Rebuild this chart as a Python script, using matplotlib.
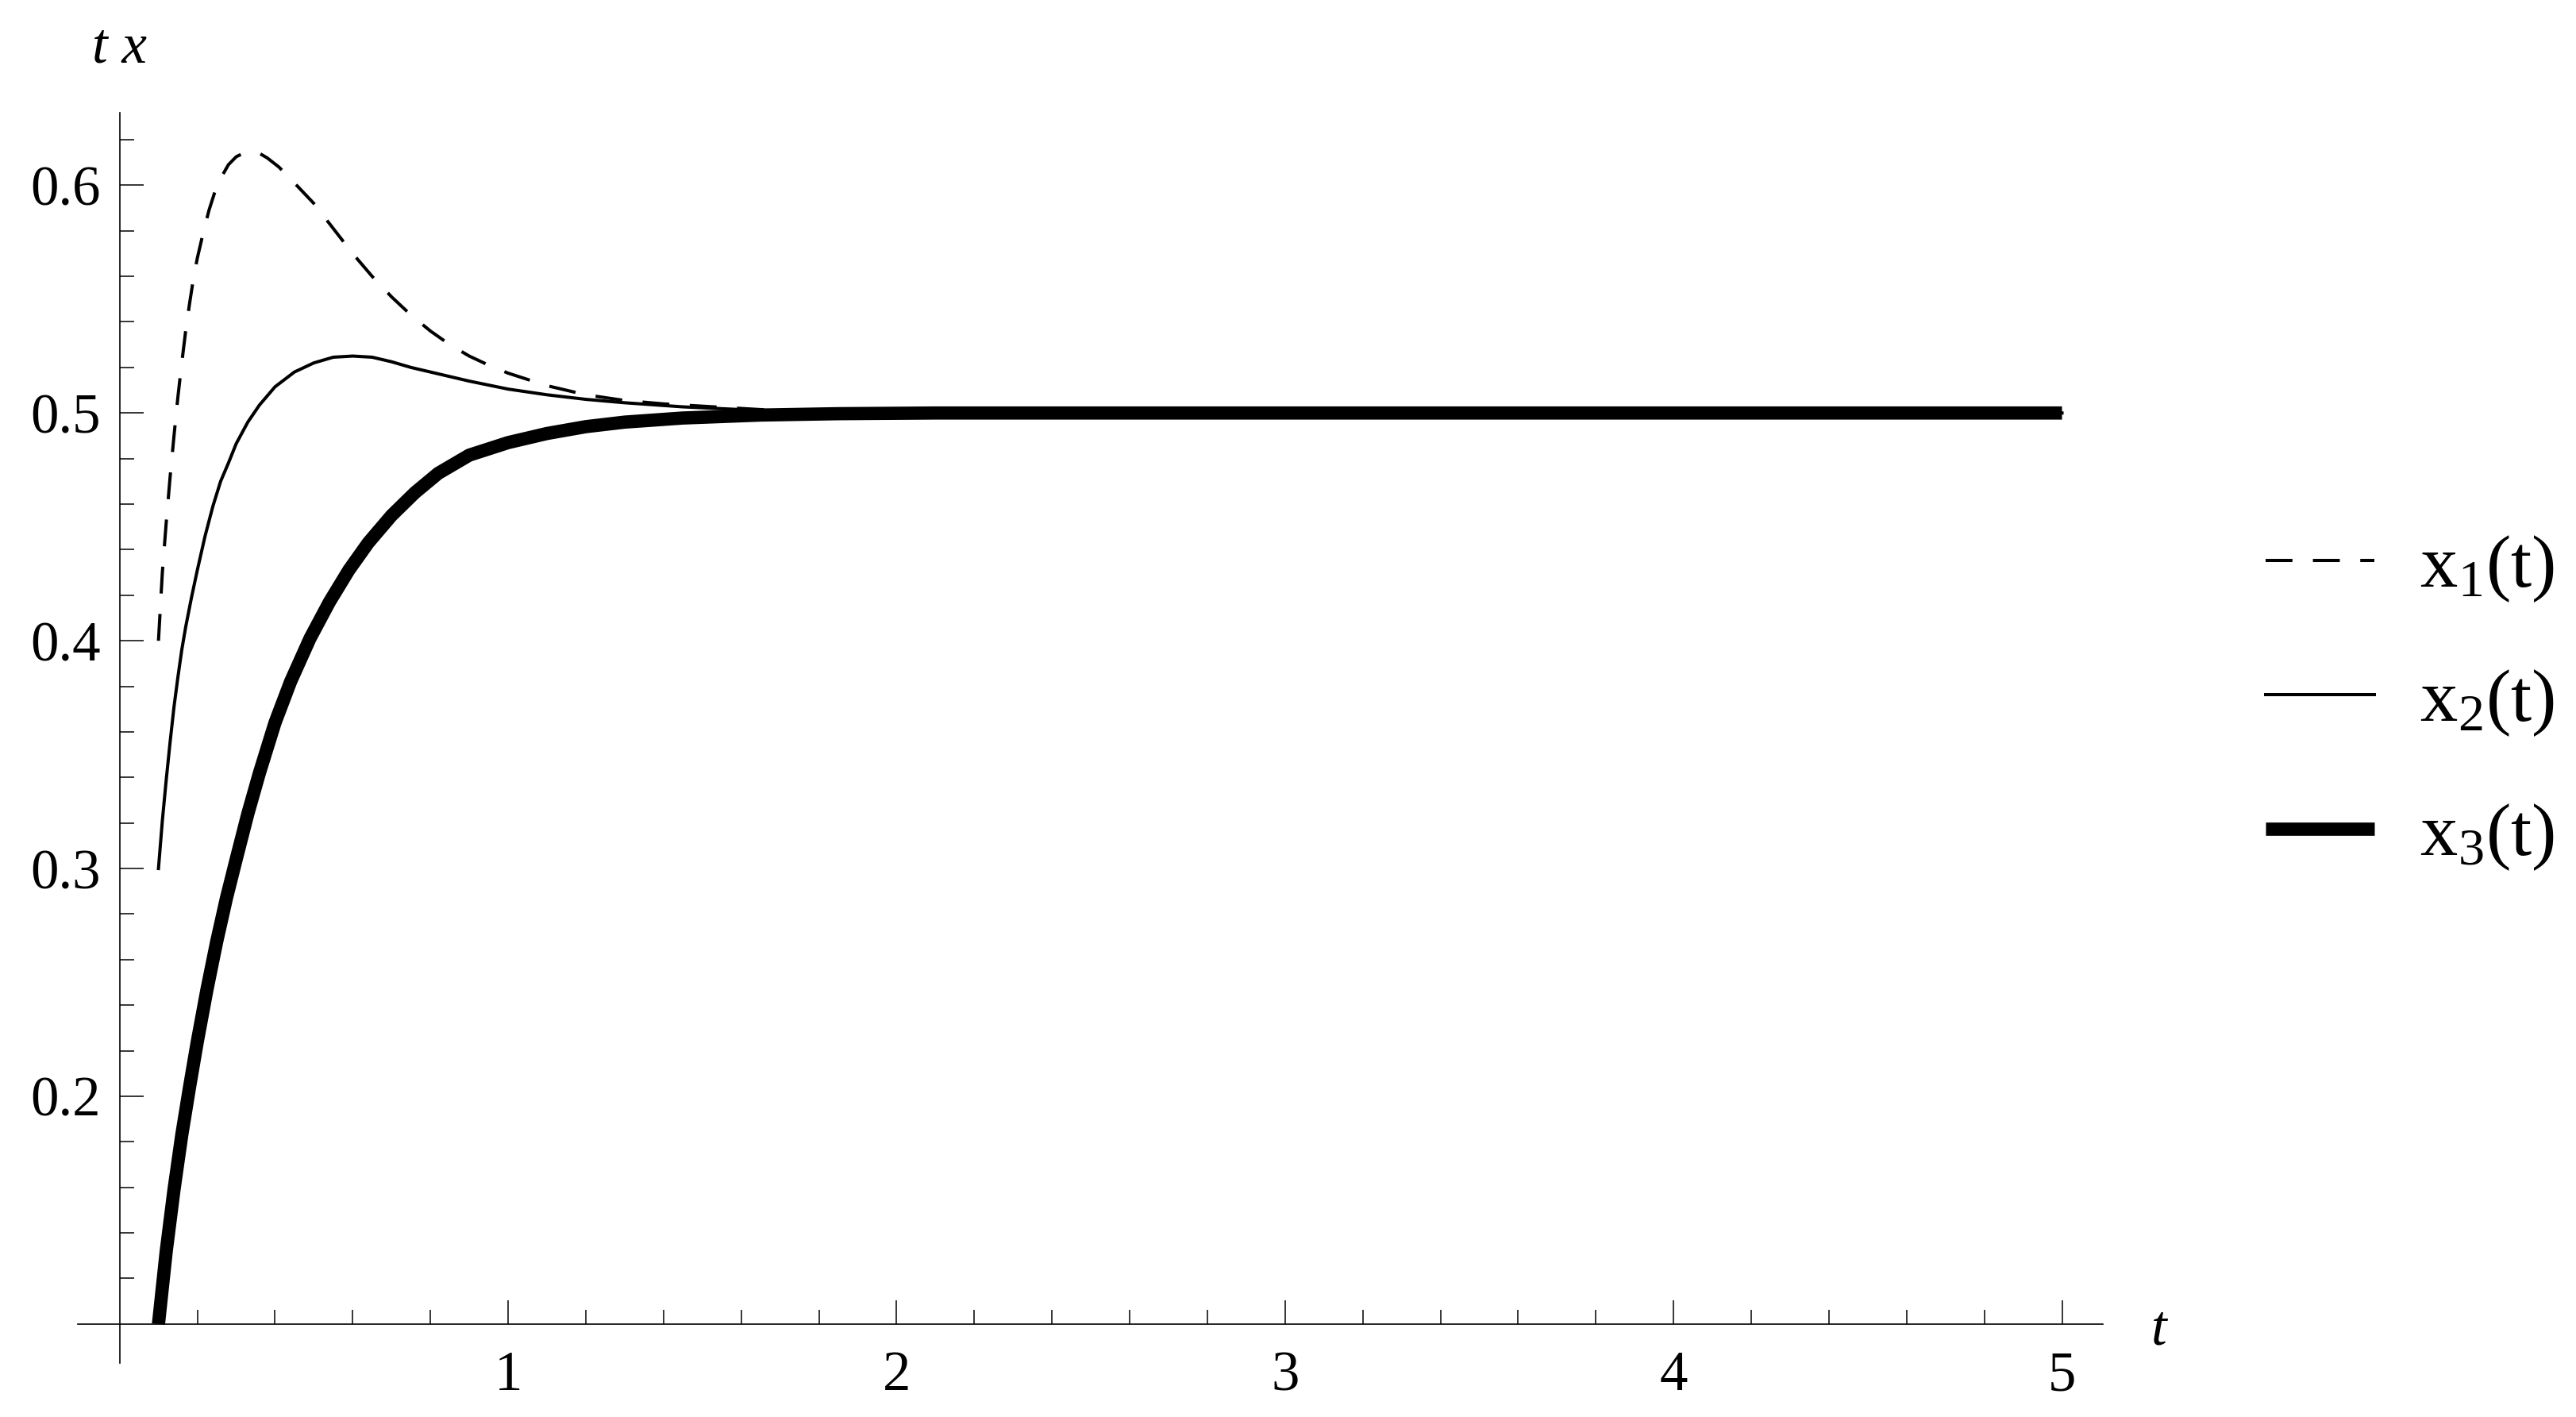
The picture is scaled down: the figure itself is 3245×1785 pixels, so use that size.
import numpy as np
import matplotlib
matplotlib.use("Agg")
import matplotlib.pyplot as plt
from matplotlib.ticker import FixedLocator, NullFormatter

plt.rcParams['font.family'] = 'Liberation Serif'
plt.rcParams['mathtext.fontset'] = 'custom'
plt.rcParams['mathtext.rm'] = 'Liberation Serif'
plt.rcParams['mathtext.it'] = 'Liberation Serif:italic'

# --- values ---
t1 = [0.100, 0.110, 0.120, 0.130, 0.140, 0.150, 0.160, 0.170, 0.180, 0.190,
      0.200, 0.215, 0.230, 0.245, 0.260, 0.280, 0.300, 0.320, 0.340, 0.360,
      0.380, 0.410, 0.450, 0.500, 0.550, 0.600, 0.650, 0.700, 0.750, 0.800,
      0.850, 0.900, 0.950, 1.000, 1.100, 1.200, 1.300, 1.400, 1.500, 1.650,
      1.800, 2.000, 2.500, 3.000, 4.000, 5.000]
x1 = [0.400, 0.430, 0.452, 0.472, 0.490, 0.507, 0.522, 0.536, 0.548, 0.559,
      0.568, 0.579, 0.589, 0.597, 0.603, 0.609, 0.6125, 0.6142, 0.6148, 0.614,
      0.612, 0.608, 0.601, 0.592, 0.581, 0.570, 0.560, 0.551, 0.543, 0.536,
      0.530, 0.525, 0.521, 0.5175, 0.512, 0.508, 0.5055, 0.504, 0.503, 0.5015,
      0.5007, 0.5003, 0.500, 0.500, 0.500, 0.500]

t2 = [0.100, 0.110, 0.120, 0.130, 0.140, 0.150, 0.160, 0.170, 0.185, 0.200,
      0.220, 0.240, 0.260, 0.280, 0.300, 0.330, 0.360, 0.400, 0.450, 0.500,
      0.550, 0.600, 0.650, 0.700, 0.750, 0.800, 0.900, 1.000, 1.100, 1.200,
      1.300, 1.450, 1.600, 1.750, 2.000, 2.500, 3.000, 4.000, 5.000]
x2 = [0.300, 0.321, 0.339, 0.3556, 0.371, 0.384, 0.396, 0.406, 0.419, 0.431,
      0.446, 0.459, 0.470, 0.478, 0.4865, 0.496, 0.5035, 0.5115, 0.518, 0.522,
      0.5245, 0.525, 0.5245, 0.5225, 0.520, 0.518, 0.514, 0.5105, 0.508, 0.506,
      0.5045, 0.5027, 0.5015, 0.5007, 0.5002, 0.500, 0.500, 0.500, 0.500]

t3 = [0.100, 0.120, 0.140, 0.160, 0.180, 0.200, 0.225, 0.250, 0.275, 0.300,
      0.330, 0.360, 0.400, 0.440, 0.490, 0.540, 0.590, 0.640, 0.700, 0.760,
      0.820, 0.900, 1.000, 1.100, 1.200, 1.300, 1.450, 1.650, 1.850, 2.100,
      3.000, 4.000, 5.000]
x3 = [0.100, 0.132, 0.159, 0.183, 0.204, 0.224, 0.247, 0.268, 0.287, 0.304,
      0.324, 0.342, 0.364, 0.382, 0.401, 0.417, 0.431, 0.443, 0.455, 0.465,
      0.4735, 0.4815, 0.487, 0.491, 0.494, 0.496, 0.4978, 0.4991, 0.4997, 0.500,
      0.500, 0.500, 0.500]

labels = [r'$\mathrm{x}_1\mathrm{(t)}$', r'$\mathrm{x}_2\mathrm{(t)}$', r'$\mathrm{x}_3\mathrm{(t)}$']
x_major = [1, 2, 3, 4, 5]
y_major = [0.2, 0.3, 0.4, 0.5, 0.6]

# --- plotting ---
fig = plt.figure(figsize=(32.45, 17.85), dpi=100)
ax = fig.add_axes([0.0303, 0.0383, 0.786, 0.8824])

l1, = ax.plot(t1, x1, color='black', lw=2.9, dashes=(8.4, 6.4), dash_capstyle='butt')
l2, = ax.plot(t2, x2, color='black', lw=2.9)
l3, = ax.plot(t3, x3, color='black', lw=12, solid_capstyle='butt')

ax.set_xlim(-0.107, 5.105)
ax.set_ylim(0.083, 0.632)

for s in ['top', 'right']:
    ax.spines[s].set_visible(False)
ax.spines['left'].set_position(('data', 0))
ax.spines['bottom'].set_position(('data', 0.1))
for s in ['left', 'bottom']:
    ax.spines[s].set_linewidth(1.2)

ax.xaxis.set_major_locator(FixedLocator(x_major))
ax.xaxis.set_minor_locator(FixedLocator([v / 5 for v in range(1, 26) if v % 5 != 0]))
ax.yaxis.set_major_locator(FixedLocator(y_major))
ax.yaxis.set_minor_locator(FixedLocator([v / 50 for v in range(6, 32) if v % 5 != 0]))
ax.set_xticklabels([str(v) for v in x_major])
ax.set_yticklabels([f'{v:.1f}' for v in y_major])
ax.yaxis.set_minor_formatter(NullFormatter())

ax.tick_params(which='major', direction='in', length=21.6, width=1.1, labelsize=51)
ax.tick_params(which='minor', direction='in', length=13, width=1.1)
ax.tick_params(axis='x', which='major', pad=24)
ax.tick_params(axis='y', which='major', pad=17)

# axis labels as in the original
ax.text(5.25, 0.097, 't', fontsize=51, style='italic', ha='center', va='center')
ax.text(0, 0.66, 't x', fontsize=51, style='italic', ha='center', va='center',
        clip_on=False)

fig.legend([l1, l2, l3], labels, loc='center left', bbox_to_anchor=(0.8795, 0.504),
           frameon=False, fontsize=68, handlelength=1.45, handletextpad=0.6,
           labelspacing=0.85, borderpad=0, borderaxespad=0)

fig.savefig('out.png', dpi=100)
